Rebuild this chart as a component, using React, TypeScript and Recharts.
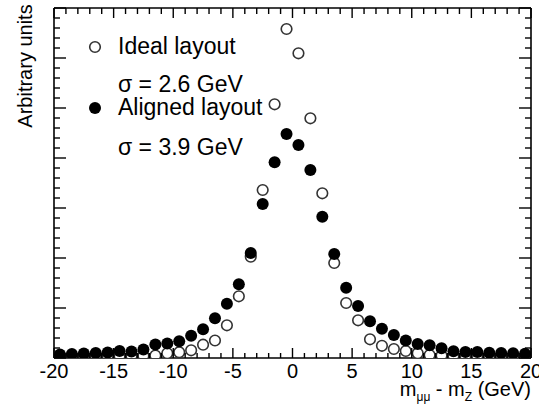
import React from 'react';
import { ScatterChart, Scatter, XAxis, YAxis, Legend } from 'recharts';

const xCenters = [
  -19.5, -18.5, -17.5, -16.5, -15.5, -14.5, -13.5, -12.5, -11.5, -10.5,
  -9.5, -8.5, -7.5, -6.5, -5.5, -4.5, -3.5, -2.5, -1.5, -0.5,
  0.5, 1.5, 2.5, 3.5, 4.5, 5.5, 6.5, 7.5, 8.5, 9.5,
  10.5, 11.5, 12.5, 13.5, 14.5, 15.5, 16.5, 17.5, 18.5, 19.5,
];

const idealValues = [
  1.8, 1.8, 1.8, 1.8, 2, 2, 2, 2.2, 2.5, 4.7,
  5.8, 7.7, 13.3, 17.5, 32.7, 61.7, 101.3, 168, 253.7, 329,
  304.7, 239.7, 164.7, 95, 55, 37.7, 18.7, 12.2, 9, 7,
  4.7, 3, 2.5, 2.2, 2, 2, 1.8, 1.8, 1.8, 1.8,
];

const alignedValues = [
  3.5, 4, 4.5, 5, 5.5, 7, 6.5, 8.5, 13.5, 14.5,
  16.7, 22.3, 28.8, 39.7, 54.3, 73.8, 105, 154, 195.7, 224,
  213, 188, 141.3, 104, 70.3, 52, 36.8, 29.3, 23, 17.5,
  14, 12.7, 9.7, 6.8, 6, 6, 5.2, 5, 4.7, 4.2,
];

const seriesNames = ['Ideal layout', 'Aligned layout'];
const sigmaLabels = ['\u03c3 = 2.6 GeV', '\u03c3 = 3.9 GeV'];

const xLabelTicks = [-20, -15, -10, -5, 0, 5, 10, 15, 20];
const xMinorTicks: number[] = [];
for (let v = -20; v <= 20; v += 1) xMinorTicks.push(v);
const yMajorTicks = [0, 50, 100, 150, 200, 250, 300, 350];
const yMinorTicks: number[] = [];
for (let v = 0; v <= 350; v += 10) yMinorTicks.push(v);

const idealData = xCenters.map((x, i) => ({ x, y: idealValues[i] }));
const alignedData = xCenters.map((x, i) => ({ x, y: alignedValues[i] }));

const FONT = '"Liberation Sans", Arial, Helvetica, sans-serif';
const AXIS_W = 1.6;
const TICK_W = 1.4;

const CHART_W = 539;
const CHART_H = 409;
const MARGIN = { top: 8, right: 7, bottom: 50, left: 53 };
const X_AXIS_H = 1;
// height of the plotting area (frame top to frame bottom)
const PLOT_H = CHART_H - MARGIN.top - MARGIN.bottom - X_AXIS_H;

const BottomTick = (props: any) => {
  const { x, y, payload } = props;
  const major = xLabelTicks.includes(payload.value);
  const top = y - PLOT_H;
  return (
    <g>
      <line x1={x} x2={x} y1={y} y2={y - (major ? 10 : 5)} stroke="#000" strokeWidth={TICK_W} />
      <line x1={x} x2={x} y1={top} y2={top + (major ? 10 : 6)} stroke="#000" strokeWidth={TICK_W} />
      {major && (
        <text x={x} y={y + 20} textAnchor="middle" fontSize={20} fontFamily={FONT} fill="#000">
          {payload.value}
        </text>
      )}
    </g>
  );
};

const LeftTick = (props: any) => {
  const { x, y, payload } = props;
  const major = yMajorTicks.includes(payload.value);
  return <line x1={x} x2={x + (major ? 12 : 6)} y1={y} y2={y} stroke="#000" strokeWidth={TICK_W} />;
};

const RightTick = (props: any) => {
  const { x, y, payload } = props;
  const major = yMajorTicks.includes(payload.value);
  return <line x1={x} x2={x - (major ? 12 : 6)} y1={y} y2={y} stroke="#000" strokeWidth={TICK_W} />;
};

const OpenDot = (p: any) => (
  <circle cx={p.cx} cy={p.cy} r={5.3} fill="#fff" stroke="#333" strokeWidth={1.6} />
);
const FilledDot = (p: any) => <circle cx={p.cx} cy={p.cy} r={6} fill="#000" />;

const renderLegend = () => (
  <svg width={300} height={170} style={{ display: 'block' }}>
    <circle cx={95} cy={47} r={5.3} fill="#fff" stroke="#333" strokeWidth={1.6} />
    <text x={118} y={54} fontSize={23} fontFamily={FONT} fill="#000">{seriesNames[0]}</text>
    <text x={118} y={92} fontSize={23} fontFamily={FONT} fill="#000">{sigmaLabels[0]}</text>
    <circle cx={95} cy={108} r={6} fill="#000" />
    <text x={118} y={115} fontSize={23} fontFamily={FONT} fill="#000">{seriesNames[1]}</text>
    <text x={118} y={155} fontSize={23} fontFamily={FONT} fill="#000">{sigmaLabels[1]}</text>
  </svg>
);

// x-axis title plus the top edge of the frame
const XTitle = (props: any) => {
  const vb = props.viewBox || {};
  const left = vb.x || 0;
  const w = vb.width || 0;
  const right = left + w;
  const y = (vb.y || 0) + 38;
  const topY = (vb.y || 0) - PLOT_H;
  return (
    <g>
      <line x1={left} x2={right} y1={topY} y2={topY} stroke="#000" strokeWidth={AXIS_W} />
      <text x={right} y={y} textAnchor="end" fontSize={20} fontFamily={FONT} fill="#000">
        <tspan>m</tspan>
        <tspan fontSize={12} dy={5}>{'\u03bc\u03bc'}</tspan>
        <tspan dy={-5}>{' - m'}</tspan>
        <tspan fontSize={12} dy={5}>Z</tspan>
        <tspan dy={-5}>{' (GeV)'}</tspan>
      </text>
    </g>
  );
};

const YTitle = () => (
  <text
    x={25}
    y={66}
    transform="rotate(-90 25 66)"
    textAnchor="middle"
    dominantBaseline="central"
    fontSize={20}
    fontFamily={FONT}
    fill="#000"
  >
    Arbitrary units
  </text>
);

export default function App() {
  return (
    <div style={{ position: 'absolute', left: 0, top: 0, width: CHART_W, height: CHART_H, background: '#fff' }}>
      <ScatterChart width={CHART_W} height={CHART_H} margin={MARGIN} style={{ background: '#fff' }}>
        <XAxis
          dataKey="x"
          type="number"
          domain={[-20, 20]}
          ticks={xMinorTicks}
          interval={0}
          height={X_AXIS_H}
          tickSize={0}
          tickMargin={0}
          tickLine={false}
          tick={<BottomTick />}
          axisLine={{ stroke: '#000', strokeWidth: AXIS_W }}
          allowDataOverflow
          label={<XTitle />}
        />
        <YAxis
          dataKey="y"
          type="number"
          domain={[0, 350]}
          ticks={yMinorTicks}
          interval={0}
          width={1}
          tickSize={0}
          tickMargin={0}
          tickLine={false}
          tick={<LeftTick />}
          axisLine={{ stroke: '#000', strokeWidth: AXIS_W }}
          allowDataOverflow
          label={<YTitle />}
        />
        <YAxis
          yAxisId="right"
          dataKey="y"
          orientation="right"
          type="number"
          domain={[0, 350]}
          ticks={yMinorTicks}
          interval={0}
          width={1}
          tickSize={0}
          tickMargin={0}
          tickLine={false}
          tick={<RightTick />}
          axisLine={{ stroke: '#000', strokeWidth: AXIS_W }}
          allowDataOverflow
        />
        <Legend
          layout="vertical"
          align="center"
          verticalAlign="middle"
          content={renderLegend}
          wrapperStyle={{ position: 'absolute', left: 0, top: 0, width: 300, height: 170 }}
        />
        <Scatter name={seriesNames[0]} data={idealData} shape={OpenDot} isAnimationActive={false} fill="#fff" />
        <Scatter name={seriesNames[1]} data={alignedData} shape={FilledDot} isAnimationActive={false} fill="#000" />
      </ScatterChart>
    </div>
  );
}
